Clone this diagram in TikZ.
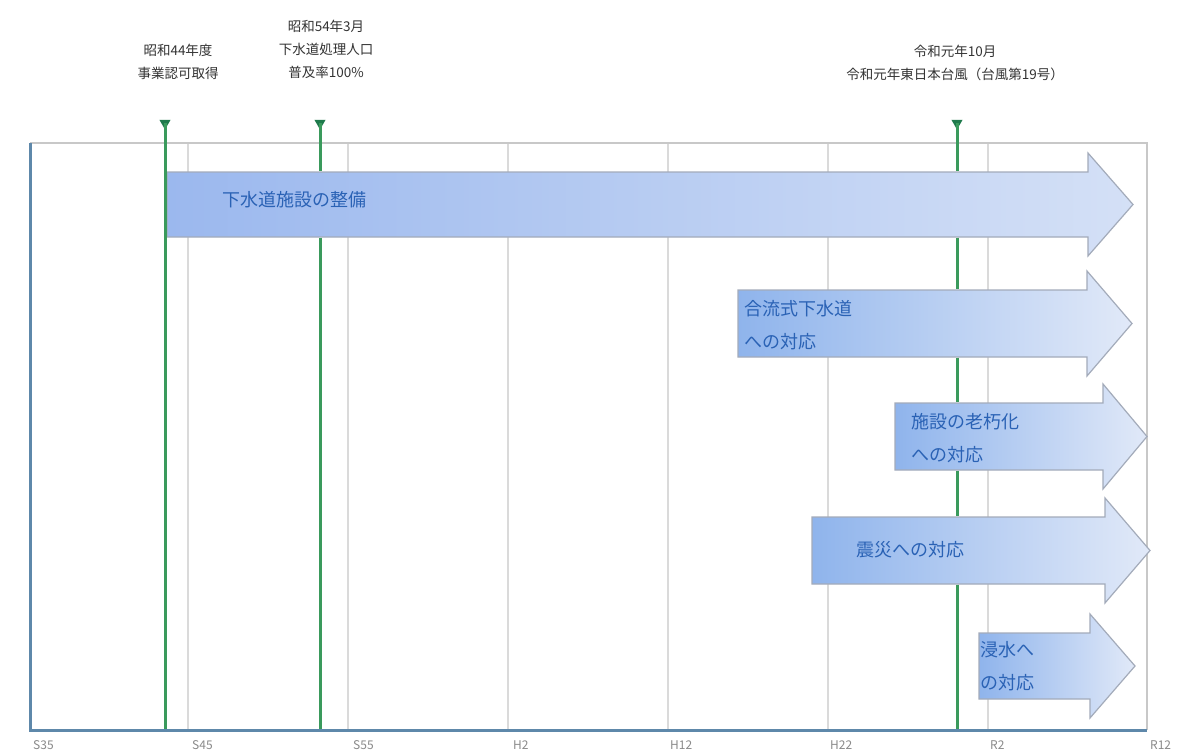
\documentclass[tikz,border=0pt]{standalone}
\usepackage{fontspec}
\setmainfont{Noto Sans CJK JP}
\usetikzlibrary{shapes.geometric}
\definecolor{gridc}{HTML}{DADADA}
\definecolor{framec}{HTML}{C8C8C8}
\definecolor{axisc}{HTML}{5E88AA}
\definecolor{greenl}{HTML}{3A9A5C}
\definecolor{greenm}{HTML}{1F7A4C}
\definecolor{arrL}{HTML}{8FB4EC}
\definecolor{arrR}{HTML}{E1E9F8}
\definecolor{arrL1}{HTML}{9BB8EE}
\definecolor{arrR1}{HTML}{D4E0F6}
\definecolor{arrline}{HTML}{A3ABBA}
\definecolor{arrtext}{HTML}{2A62B5}
\definecolor{labtext}{HTML}{333333}
\definecolor{axtext}{HTML}{8A8A8A}
\newcommand\arrowpath[5]{(#1,#2) -- (#4,#2) -- (#4,#2-19) -- (#5,{(#2+#3)/2}) -- (#4,#3+19) -- (#4,#3) -- (#1,#3) -- cycle}
\newcommand\blockarrow[7]{% left, top, bottom, headx, tipx, leftcolor, rightcolor
  \fill[white] \arrowpath{#1}{#2}{#3}{#4}{#5};
  \shade[left color=#6, right color=#7] \arrowpath{#1}{#2}{#3}{#4}{#5};
  \draw[arrline, line width=1.2pt] \arrowpath{#1}{#2}{#3}{#4}{#5};}
\begin{document}
\begin{tikzpicture}[x=1pt,y=-1pt,
  gridline/.style={draw=gridc, line width=1.5pt},
  frameline/.style={draw=framec, line width=1.5pt},
  axisline/.style={draw=axisc, line width=3pt},
  gline/.style={draw=greenl, line width=3pt},
  marker/.style={regular polygon, regular polygon sides=3, shape border rotate=180, fill=greenm, inner sep=0pt, minimum size=13pt},
  toplabel/.style={font=\fontsize{13.5}{23}\selectfont, text=labtext, align=center, inner sep=0pt},
  arrlabel/.style={font=\fontsize{18}{33}\selectfont, text=arrtext, align=left, inner sep=0pt, anchor=west},
  axlabel/.style={font=\fontsize{12}{14}\selectfont, text=axtext, inner sep=0pt, anchor=west}]
\useasboundingbox (0,0) rectangle (1184,752);
\fill[white] (0,0) rectangle (1184,752);
% grid
\foreach \x in {188,348,508,668,828,988} \draw[gridline] (\x,143) -- (\x,730);
\draw[frameline] (30,143) -- (1147,143) -- (1147,730);
% top labels
\node[toplabel] (l1) at (178,62) {昭和44年度\\事業認可取得};
\node[toplabel] (l2) at (326,49) {昭和54年3月\\下水道処理人口\\普及率100\%};
\node[toplabel] (l3) at (955,63) {令和元年10月\\令和元年東日本台風（台風第19号）};
% arrows
\blockarrow{167}{172}{237}{1088}{1133}{arrL1}{arrR1}
\blockarrow{738}{290}{357}{1087}{1132}{arrL}{arrR}
\blockarrow{895}{403}{470}{1103}{1147}{arrL}{arrR}
\blockarrow{812}{517}{584}{1105}{1150}{arrL}{arrR}
\blockarrow{979}{633}{699}{1090}{1135}{arrL}{arrR}
% markers and green lines (visible parts only)
\node[marker] (m1) at (165,123) {};
\node[marker] (m2) at (320,123) {};
\node[marker] (m3) at (957,123) {};
\coordinate (b1) at (165,730);
\coordinate (b2) at (320,730);
\coordinate (b3) at (957,730);
\draw[gline] (m1.center) -- (b1);
\draw[gline] (m2.center) -- (320,171.4);
\draw[gline] (320,237.6) -- (b2);
\draw[gline] (m3.center) -- (957,171.4);
\draw[gline] (957,237.6) -- (957,289.4);
\draw[gline] (957,357.6) -- (957,402.4);
\draw[gline] (957,470.6) -- (957,516.4);
\draw[gline] (957,584.6) -- (b3);
% arrow texts
\node[arrlabel] (t1) at (222,200) {下水道施設の整備};
\node[arrlabel] (t2) at (744,325) {合流式下水道\\への対応};
\node[arrlabel] (t3) at (911,438) {施設の老朽化\\への対応};
\node[arrlabel] (t4) at (856,550) {震災への対応};
\node[arrlabel] (t5) at (980,666) {浸水へ\\の対応};
% axes
\draw[axisline] (30,143) -- (30,730) -- (1147,730);
% axis labels
\node[axlabel] (x1) at (33,745) {S35};
\node[axlabel] (x2) at (192,745) {S45};
\node[axlabel] (x3) at (353,745) {S55};
\node[axlabel] (x4) at (513,745) {H2};
\node[axlabel] (x5) at (670,745) {H12};
\node[axlabel] (x6) at (830,745) {H22};
\node[axlabel] (x7) at (990,745) {R2};
\node[axlabel] (x8) at (1150,745) {R12};
\end{tikzpicture}
\end{document}
